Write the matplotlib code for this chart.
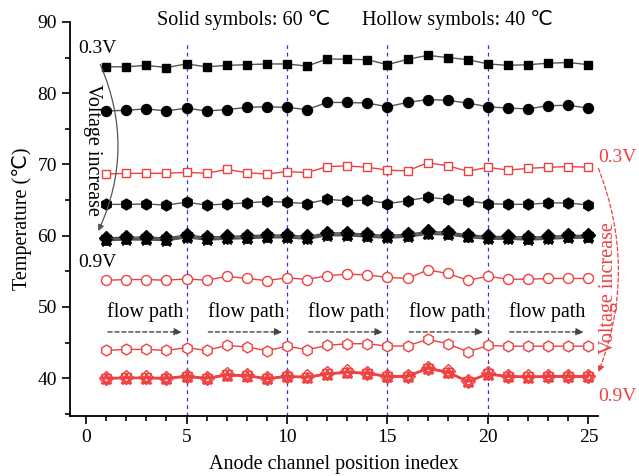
import matplotlib

matplotlib.use("Agg")
import matplotlib.pyplot as plt
import numpy as np
from matplotlib.patches import FancyArrowPatch

plt.rcParams["font.family"] = ["Liberation Serif", "DejaVu Sans"]
plt.rcParams["mathtext.fontset"] = "stix"

# channel positions along the anode
pos = np.arange(1, 26)

# 60 C (solid symbols)
t60_03 = [83.7, 83.7, 83.9, 83.6, 84.1, 83.7, 83.9, 84.0, 84.1, 84.1, 83.8, 84.8, 84.75,
          84.7, 84.0, 84.75, 85.3, 85.0, 84.7, 84.1, 83.9, 84.0, 84.2, 84.3, 84.0]
t60_04 = [77.5, 77.6, 77.8, 77.5, 77.9, 77.5, 77.7, 78.0, 78.1, 78.0, 77.7, 78.7, 78.7,
          78.6, 78.1, 78.7, 79.1, 79.0, 78.6, 78.1, 77.9, 77.8, 78.25, 78.3, 77.9]
t60_05 = [64.4, 64.4, 64.45, 64.3, 64.7, 64.3, 64.45, 64.6, 64.8, 64.7, 64.5, 65.1, 64.9,
          65.0, 64.5, 64.9, 65.4, 65.1, 64.9, 64.5, 64.4, 64.4, 64.6, 64.6, 64.3]
t60_hi = [59.4, 59.5, 59.5, 59.4, 59.8, 59.5, 59.6, 59.7, 59.8, 59.8, 59.6, 60.1, 60.1,
          59.9, 59.75, 59.9, 60.3, 60.2, 59.85, 59.6, 59.6, 59.5, 59.6, 59.75, 59.75]

# 40 C (hollow symbols)
t40_03 = [68.65, 68.75, 68.75, 68.75, 68.9, 68.75, 69.3, 68.85, 68.65, 69.0, 68.85, 69.7, 69.8,
          69.6, 69.2, 69.1, 70.25, 69.8, 69.05, 69.6, 69.2, 69.45, 69.6, 69.7, 69.6]
t40_04 = [53.75, 53.85, 53.85, 53.75, 53.95, 53.75, 54.3, 54.0, 53.7, 54.1, 53.85, 54.4, 54.6,
          54.5, 54.15, 54.0, 55.2, 54.7, 53.75, 54.3, 53.9, 53.9, 54.0, 54.0, 54.0]
t40_05 = [43.9, 44.05, 44.05, 43.9, 44.3, 43.9, 44.6, 44.4, 43.85, 44.5, 44.0, 44.6, 44.85,
          44.85, 44.5, 44.55, 45.45, 44.85, 43.7, 44.6, 44.5, 44.5, 44.5, 44.5, 44.5]
t40_hi = [39.95, 40.0, 40.0, 39.95, 40.2, 39.95, 40.4, 40.3, 39.9, 40.2, 40.1, 40.55, 40.8,
          40.65, 40.2, 40.2, 41.35, 40.8, 39.5, 40.55, 40.2, 40.15, 40.2, 40.2, 40.2]

# the 0.6-0.9 V curves nearly coincide
hi_offsets = [0.3, 0.15, 0.0, -0.1]
hi_markers = ["D", "^", "v", "*"]

fig = plt.figure(figsize=(6.39, 4.76), dpi=100)
ax = fig.add_axes([0.1095, 0.126, 0.827, 0.828])

grey = "#555555"
red = "#f04040"

for x in [5, 10, 15, 20]:
    ax.plot([x, x], [34.7, 87.0], color="#3333ee", lw=0.9, ls=(0, (3, 3)), zorder=1)

kw_b = dict(color=grey, lw=1.0, mfc="black", mec="black", zorder=3)
ax.plot(pos, t60_03, marker="s", ms=6.3, **kw_b)
ax.plot(pos, t60_04, marker="o", ms=7.2, **kw_b)
ax.plot(pos, t60_05, marker="h", ms=7.8, **kw_b)
for off, m in zip(hi_offsets, hi_markers):
    ax.plot(pos, np.array(t60_hi) + off, marker=m, ms=7 if m != "*" else 9, **kw_b)

kw_r = dict(color=red, lw=1.0, mec=red, mew=1.0, zorder=3)
ax.plot(pos, t40_03, marker="s", ms=6.3, mfc="white", **kw_r)
ax.plot(pos, t40_04, marker="o", ms=7.2, mfc="white", **kw_r)
ax.plot(pos, t40_05, marker="h", ms=7.8, mfc="white", **kw_r)
for off, m in zip(hi_offsets, hi_markers):
    ax.plot(pos, np.array(t40_hi) + off * 0.5, marker=m, ms=7 if m != "*" else 9,
            mfc="none", **kw_r)

ax.set_xlim(-0.8, 25.5)
ax.set_ylim(34.7, 90)
ax.set_xticks(range(0, 26, 5))
ax.set_xticks(range(0, 26), minor=True)
ax.set_yticks(range(40, 91, 10))
ax.set_yticks(range(35, 91, 5), minor=True)
for s in ["top", "right"]:
    ax.spines[s].set_visible(False)
for s in ["left", "bottom"]:
    ax.spines[s].set_linewidth(1.3)
ax.tick_params(which="major", length=6, width=1.2, labelsize=14, direction="out")
ax.tick_params(which="minor", length=3.5, width=1.2, direction="out")
ax.set_xlabel("Anode channel position inedex", fontsize=14.5, labelpad=6)
ax.set_ylabel("Temperature (℃)", fontsize=14.5)

ax.text(7.85, 90.3, "Solid symbols: 60 ℃", fontsize=14.5, ha="center", va="center", clip_on=False)
ax.text(18.5, 90.3, "Hollow symbols: 40 ℃", fontsize=14.5, ha="center", va="center", clip_on=False)

ax.text(0.55, 86.3, "0.3V", fontsize=14, ha="center", va="center")
ax.text(0.55, 56.3, "0.9V", fontsize=14, ha="center", va="center")
ax.text(0.3, 72.0, "Voltage increase", fontsize=14.5, rotation=-90, ha="center", va="center")
ax.add_patch(FancyArrowPatch((0.65, 84.4), (0.55, 60.3), connectionstyle="arc3,rad=-0.23",
                             arrowstyle="-|>", mutation_scale=9, color=grey, lw=0.9, zorder=4))

ax.text(26.45, 71.0, "0.3V", fontsize=14, color=red, ha="center", va="center", clip_on=False)
ax.text(26.45, 37.5, "0.9V", fontsize=14, color=red, ha="center", va="center", clip_on=False)
ax.text(26.0, 52.6, "Voltage increase", fontsize=14.5, color=red, rotation=90,
        ha="center", va="center", clip_on=False)
ax.add_patch(FancyArrowPatch((25.45, 69.8), (25.45, 40.5), connectionstyle="arc3,rad=-0.2",
                             arrowstyle="-|>", mutation_scale=9, color=red, lw=0.9,
                             ls=(0, (3, 2)), clip_on=False, zorder=4))

for k in range(5):
    ax.text(5 * k + 2.95, 49.3, "flow path", fontsize=14.5, ha="center", va="center")
    ax.add_patch(FancyArrowPatch((5 * k + 0.95, 46.5), (5 * k + 4.9, 46.5), arrowstyle="-|>",
                                 mutation_scale=11, color="#444444", lw=1.0, ls=(0, (3, 2)), zorder=4))

fig.savefig("out.png", dpi=100)
